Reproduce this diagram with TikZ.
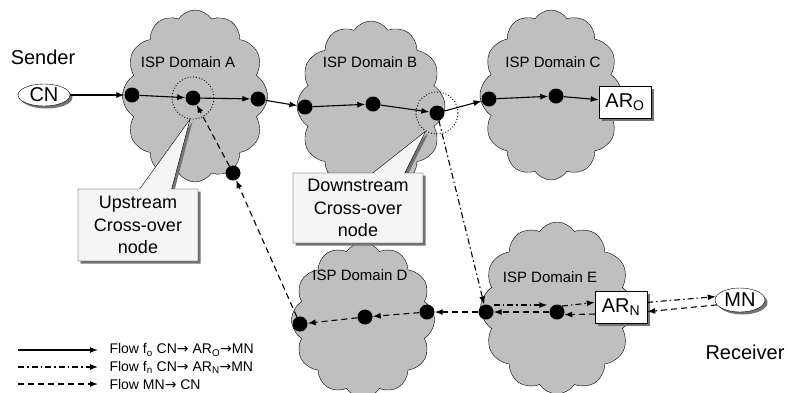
\documentclass[tikz,border=0pt]{standalone}
\usepackage{fontspec}
\setmainfont{Liberation Sans}
\newfontfamily\arrowfont{DejaVu Sans}
\usetikzlibrary{shapes.symbols,shapes.callouts,shapes.geometric,shadows,arrows.meta}

\newcommand{\flowto}{{\arrowfont →}}

\tikzset{
  isp/.style={cloud, cloud puffs=12, cloud puff arc=115, draw=black, fill=black!25, inner sep=0pt},
  router/.style={circle, fill=black, inner sep=0pt, minimum size=15pt},
  xover/.style={circle, draw=black, dotted, line width=0.9pt, inner sep=0pt, minimum size=42pt},
  shade/.style={drop shadow={shadow xshift=2.5pt, shadow yshift=-2.5pt, fill=black!55, opacity=1}},
  host/.style={ellipse, draw=black, fill=white, inner sep=0pt, minimum width=52pt, minimum height=22pt, shade, font=\fontsize{20}{24}\selectfont},
  ar/.style={rectangle, draw=black, fill=white, inner sep=0pt, minimum width=52pt, minimum height=32pt, shade, font=\fontsize{20}{24}\selectfont},
  xnote/.style={rectangle callout, draw=black, fill=black!4, minimum width=120pt, minimum height=72pt, align=center, callout pointer width=32pt, shade, font=\fontsize{18}{22.5}\selectfont},
  isplabel/.style={font=\fontsize{15}{18}\selectfont},
  bigtext/.style={font=\fontsize{20}{24}\selectfont},
  legend/.style={anchor=west, font=\fontsize{14}{16}\selectfont},
  flowo/.style={-{Latex[length=8pt,width=6pt]}, line width=1.1pt},
  flown/.style={flowo, dash pattern=on 6pt off 3pt on 1.5pt off 3pt},
  flowb/.style={flowo, dash pattern=on 6pt off 4pt}
}

\begin{document}
\begin{tikzpicture}[x=1pt, y=-1pt]
  \useasboundingbox (0,0) rectangle (787,392);

  % domains
  \node[isp, minimum width=145pt, minimum height=172pt, aspect=0.85] (cloudA) at (195,96) {};
  \node[isp, minimum width=148pt, minimum height=170pt, aspect=0.87] (cloudB) at (371,106) {};
  \node[isp, minimum width=142pt, minimum height=170pt, aspect=0.84] (cloudC) at (551,95) {};
  \node[isp, minimum width=143pt, minimum height=155pt, aspect=0.92] (cloudD) at (363,320) {};
  \node[isp, minimum width=153pt, minimum height=172pt, aspect=0.89] (cloudE) at (557,308) {};
  \node[isplabel] (lblA) at (188,62) {ISP Domain A};
  \node[isplabel] (lblB) at (370,62) {ISP Domain B};
  \node[isplabel] (lblC) at (553,62) {ISP Domain C};
  \node[isplabel] (lblD) at (360,275) {ISP Domain D};
  \node[isplabel] (lblE) at (550,277) {ISP Domain E};

  % cross-over nodes
  \node[xover] (xa) at (193,98) {};
  \node[xover] (xb) at (437,113) {};
  \node[xnote, callout absolute pointer={(xa.262)}] (upnote) at (138,225) {Upstream\\Cross-over\\node};
  \node[xnote, minimum width=130pt, minimum height=70pt, callout absolute pointer={(xb.238)}] (downnote) at (358,208) {Downstream\\Cross-over\\node};

  % routers
  \node[router] (a1) at (132,95) {};
  \node[router] (a2) at (193,98) {};
  \node[router] (a3) at (258,99) {};
  \node[router] (a4) at (233,173) {};
  \node[router] (b1) at (305,107) {};
  \node[router] (b2) at (373,104) {};
  \node[router] (b3) at (437,113) {};
  \node[router] (c1) at (489,99) {};
  \node[router] (c2) at (556,96) {};
  \node[router] (d1) at (300,324) {};
  \node[router] (d2) at (365,317) {};
  \node[router] (d3) at (427,312) {};
  \node[router] (e1) at (486,312) {};
  \node[router] (e2) at (557,312) {};

  % end hosts
  \node[host] (cn) at (44,95) {CN};
  \node[host, minimum width=50pt, minimum height=24pt] (mn) at (740,300) {MN};
  \node[ar] (aro) at (625,102) {AR\textsubscript{O}};
  \node[ar] (arn) at (621,307) {AR\textsubscript{N}};
  \node[bigtext] (sender) at (43,57) {Sender};
  \node[bigtext] (receiver) at (745,352) {Receiver};

  % flow f_o
  \draw[flowo] (cn) -- (a1);
  \draw[flowo] (a1) -- (a2);
  \draw[flowo] (a2) -- (a3);
  \draw[flowo] (a3) -- (b1);
  \draw[flowo] (b1) -- (b2);
  \draw[flowo] (b2) -- (b3);
  \draw[flowo] (b3) -- (c1);
  \draw[flowo] (c1) -- (c2);
  \draw[flowo] (c2) -- (aro);

  % flow f_n
  \draw[flown] (b3) -- (e1);
  \draw[flown] ([yshift=7pt]e1.east) -- ([yshift=7pt,xshift=-2pt]e2.west);
  \draw[flown] (e2.50) -- (arn.170);
  \draw[flown] (arn.10) -- (mn.172);

  % flow MN -> CN
  \draw[flowb] (mn.192) -- (arn.-10);
  \draw[flowb] (arn.195) -- (e2.-20);
  \draw[flowb] (e2) -- (e1);
  \draw[flowb] (e1) -- (d3);
  \draw[flowb] (d3) -- (d2);
  \draw[flowb] (d2) -- (d1);
  \draw[flowb] (d1) -- (a4);
  \draw[flowb] (a4) -- (a2);

  % legend
  \coordinate (l1s) at (18,350);
  \coordinate (l1e) at (98,350);
  \coordinate (l2s) at (18,367);
  \coordinate (l2e) at (98,367);
  \coordinate (l3s) at (18,384);
  \coordinate (l3e) at (98,384);
  \draw[flowo] (l1s) -- (l1e);
  \draw[flown] (l2s) -- (l2e);
  \draw[flowb] (l3s) -- (l3e);
  \node[legend] (leg1) at (106,350) {Flow f\textsubscript{o} CN\flowto{} AR\textsubscript{O}\flowto MN};
  \node[legend] (leg2) at (106,367) {Flow f\textsubscript{n} CN\flowto{} AR\textsubscript{N}\flowto MN};
  \node[legend] (leg3) at (106,384) {Flow MN\flowto{} CN};
\end{tikzpicture}
\end{document}
